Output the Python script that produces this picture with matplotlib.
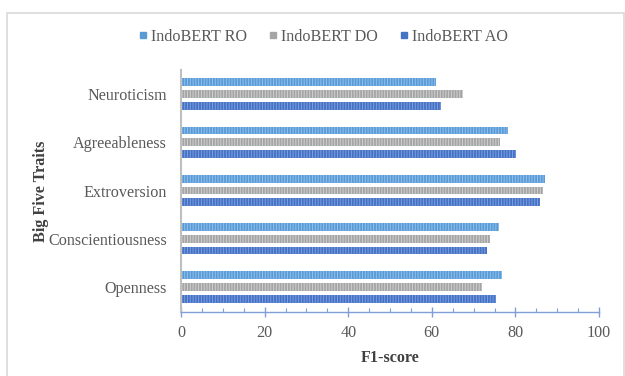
import matplotlib.pyplot as plt
import numpy as np
from matplotlib.patches import Rectangle
from matplotlib.lines import Line2D
from matplotlib.ticker import MultipleLocator

# data
traits = ["Openness", "Conscientiousness", "Extroversion", "Agreeableness", "Neuroticism"]
ro_scores = [76.8, 76.0, 87.1, 78.3, 60.9]
do_scores = [72.1, 73.9, 86.7, 76.3, 67.5]
ao_scores = [75.3, 73.1, 85.9, 80.1, 62.2]
series_names = ["IndoBERT RO", "IndoBERT DO", "IndoBERT AO"]

plt.rcParams['font.family'] = ['Liberation Serif', 'DejaVu Serif']
plt.rcParams['hatch.linewidth'] = 0.7

fs = 11.6
fig = plt.figure(figsize=(6.25, 3.76), dpi=100)
ax = fig.add_axes([0.2896, 0.1702, 0.6688, 0.6436])

y = np.arange(len(traits))
h = 0.16
off = 0.245
styles = [
    (ro_scores, '#5b9bd5', '#8fc0ee', off),
    (do_scores, '#a5a5a5', '#cfcfcf', 0.0),
    (ao_scores, '#4472c4', '#7d9ee0', -off),
]
for (vals, fc, hc, dy), name in zip(styles, series_names):
    ax.barh(y + dy, vals, height=h, color=fc, edgecolor=hc, hatch='||||||',
            linewidth=0, label=name)

ax.set_xlim(0, 100)
ax.set_ylim(-0.52, 4.5)
ax.set_yticks(y)
ax.set_yticklabels(traits)
ax.xaxis.set_major_locator(MultipleLocator(20))
ax.xaxis.set_minor_locator(MultipleLocator(5))

for s in ['top', 'right']:
    ax.spines[s].set_visible(False)
ax.spines['left'].set_color('#bfbfbf')
ax.spines['left'].set_linewidth(1.5)
ax.spines['bottom'].set_color('#7f9fd8')
ax.spines['bottom'].set_linewidth(1.0)
ax.tick_params(axis='y', length=0, pad=10, labelsize=fs, labelcolor='#595959')
ax.tick_params(axis='x', which='major', direction='inout', length=7, width=1.0,
               color='#7f9fd8', labelsize=fs, labelcolor='#595959', pad=6)
ax.tick_params(axis='x', which='minor', direction='in', length=3, width=0.8,
               color='#7f9fd8')

ax.set_xlabel('F1-score', fontsize=fs, fontweight='bold', color='#404040', labelpad=6)
ax.set_ylabel('Big Five Traits', fontsize=fs, fontweight='bold', color='#404040', labelpad=-0.5)

handles = [Line2D([], [], marker='s', linestyle='none', markersize=4.5,
                  markerfacecolor=c, markeredgecolor=c)
           for c in ['#5b9bd5', '#a5a5a5', '#4472c4']]
fig.legend(handles, series_names, loc='center', bbox_to_anchor=(0.517, 0.902),
           ncol=3, frameon=False, fontsize=fs, handlelength=0.6,
           handletextpad=0.2, columnspacing=1.3, labelcolor='#595959')

# light border around the chart area
fig.patches.append(Rectangle((7 / 625, -0.02), 617 / 625, 1.02 - 13 / 376,
                             transform=fig.transFigure, fill=False,
                             edgecolor='#d9d9d9', linewidth=1.2))

fig.savefig('out.png', dpi=100)
